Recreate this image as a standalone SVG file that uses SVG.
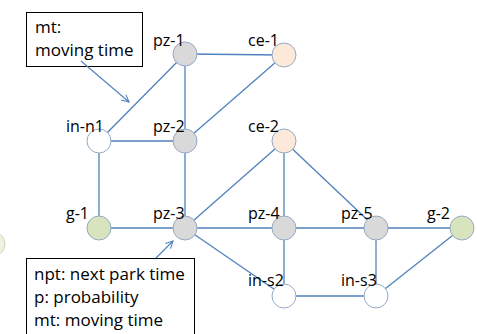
<svg xmlns="http://www.w3.org/2000/svg" width="477" height="334" viewBox="0 0 477 334">
<defs>
<marker id="arr" viewBox="0 0 10 10" refX="9" refY="5" markerWidth="9" markerHeight="9" markerUnits="userSpaceOnUse" orient="auto">
<path d="M1,1 L9,5 L1,9" fill="none" stroke="#4f81bd" stroke-width="1.2"/>
</marker>
</defs>
<style>
.edge{stroke:#4f81bd;stroke-width:1.3;fill:none}
.node{stroke:#95a9c4;stroke-width:1}
.pz{fill:#d9d9d9}
.ce{fill:#fde9d9}
.g{fill:#d7e4bd}
.in{fill:#ffffff}
.lbl{font-family:"Open Sans","Liberation Sans",sans-serif;font-size:16px;fill:#000}
.note{font-family:"Open Sans","Liberation Sans",sans-serif;font-size:17px;fill:#000}
.box{fill:#fff;stroke:#000;stroke-width:1}
.call{stroke:#4f81bd;stroke-width:1.1;fill:none}
</style>
<rect width="477" height="334" fill="#fff"/>
<g id="connectors">
<line class="edge" x1="185" y1="54" x2="284" y2="55"/>
<line class="edge" x1="185" y1="54" x2="185" y2="141"/>
<line class="edge" x1="185" y1="54" x2="99" y2="141"/>
<line class="edge" x1="284" y1="55" x2="185" y2="141"/>
<line class="edge" x1="99" y1="141" x2="185" y2="141"/>
<line class="edge" x1="99" y1="141" x2="99" y2="228"/>
<line class="edge" x1="185" y1="141" x2="185" y2="228"/>
<line class="edge" x1="99" y1="228" x2="185" y2="228"/>
<line class="edge" x1="185" y1="228" x2="284" y2="141"/>
<line class="edge" x1="185" y1="228" x2="284" y2="228"/>
<line class="edge" x1="185" y1="228" x2="284" y2="296"/>
<line class="edge" x1="284" y1="141" x2="284" y2="228"/>
<line class="edge" x1="284" y1="141" x2="376" y2="228"/>
<line class="edge" x1="284" y1="228" x2="376" y2="228"/>
<line class="edge" x1="284" y1="228" x2="284" y2="296"/>
<line class="edge" x1="376" y1="228" x2="462" y2="228"/>
<line class="edge" x1="376" y1="228" x2="376" y2="296"/>
<line class="edge" x1="284" y1="296" x2="376" y2="296"/>
<line class="edge" x1="376" y1="296" x2="462" y2="228"/>
</g>
<g id="node-partial"><circle cx="-7" cy="244" r="12" fill="#eef3e2" stroke="#cdd6b8"/></g>
<g id="node-pz-1"><circle class="node pz" cx="185" cy="54" r="12"/><text class="lbl" x="153" y="46">pz-1</text></g>
<g id="node-ce-1"><circle class="node ce" cx="284" cy="55" r="12"/><text class="lbl" x="248" y="46">ce-1</text></g>
<g id="node-in-n1"><circle class="node in" cx="99" cy="141" r="12"/><text class="lbl" x="66" y="132">in-n1</text></g>
<g id="node-pz-2"><circle class="node pz" cx="185" cy="141" r="12"/><text class="lbl" x="153" y="132">pz-2</text></g>
<g id="node-ce-2"><circle class="node ce" cx="284" cy="141" r="12"/><text class="lbl" x="248" y="132">ce-2</text></g>
<g id="node-g-1"><circle class="node g" cx="99" cy="228" r="12"/><text class="lbl" x="66" y="219">g-1</text></g>
<g id="node-pz-3"><circle class="node pz" cx="185" cy="228" r="12"/><text class="lbl" x="153" y="219">pz-3</text></g>
<g id="node-pz-4"><circle class="node pz" cx="284" cy="228" r="12"/><text class="lbl" x="248" y="219">pz-4</text></g>
<g id="node-pz-5"><circle class="node pz" cx="376" cy="228" r="12"/><text class="lbl" x="341" y="219">pz-5</text></g>
<g id="node-g-2"><circle class="node g" cx="462" cy="228" r="12"/><text class="lbl" x="427" y="219">g-2</text></g>
<g id="node-in-s2"><circle class="node in" cx="284" cy="296" r="12"/><text class="lbl" x="248" y="286">in-s2</text></g>
<g id="node-in-s3"><circle class="node in" cx="376" cy="296" r="12"/><text class="lbl" x="341" y="286">in-s3</text></g>
<g id="note-1">
<rect class="box" x="26.5" y="12.5" width="116" height="54"/>
<text class="note" x="35" y="33">mt:</text>
<text class="note" x="35" y="56">moving time</text>
<line class="call" x1="81" y1="61" x2="129" y2="102" marker-end="url(#arr)"/>
</g>
<g id="note-2">
<rect class="box" x="26.5" y="258.5" width="168" height="80"/>
<text class="note" x="34" y="280">npt: next park time</text>
<text class="note" x="34" y="303">p: probability</text>
<text class="note" x="34" y="326">mt: moving time</text>
<line class="call" x1="156" y1="258" x2="173" y2="241" marker-end="url(#arr)"/>
</g>
</svg>
